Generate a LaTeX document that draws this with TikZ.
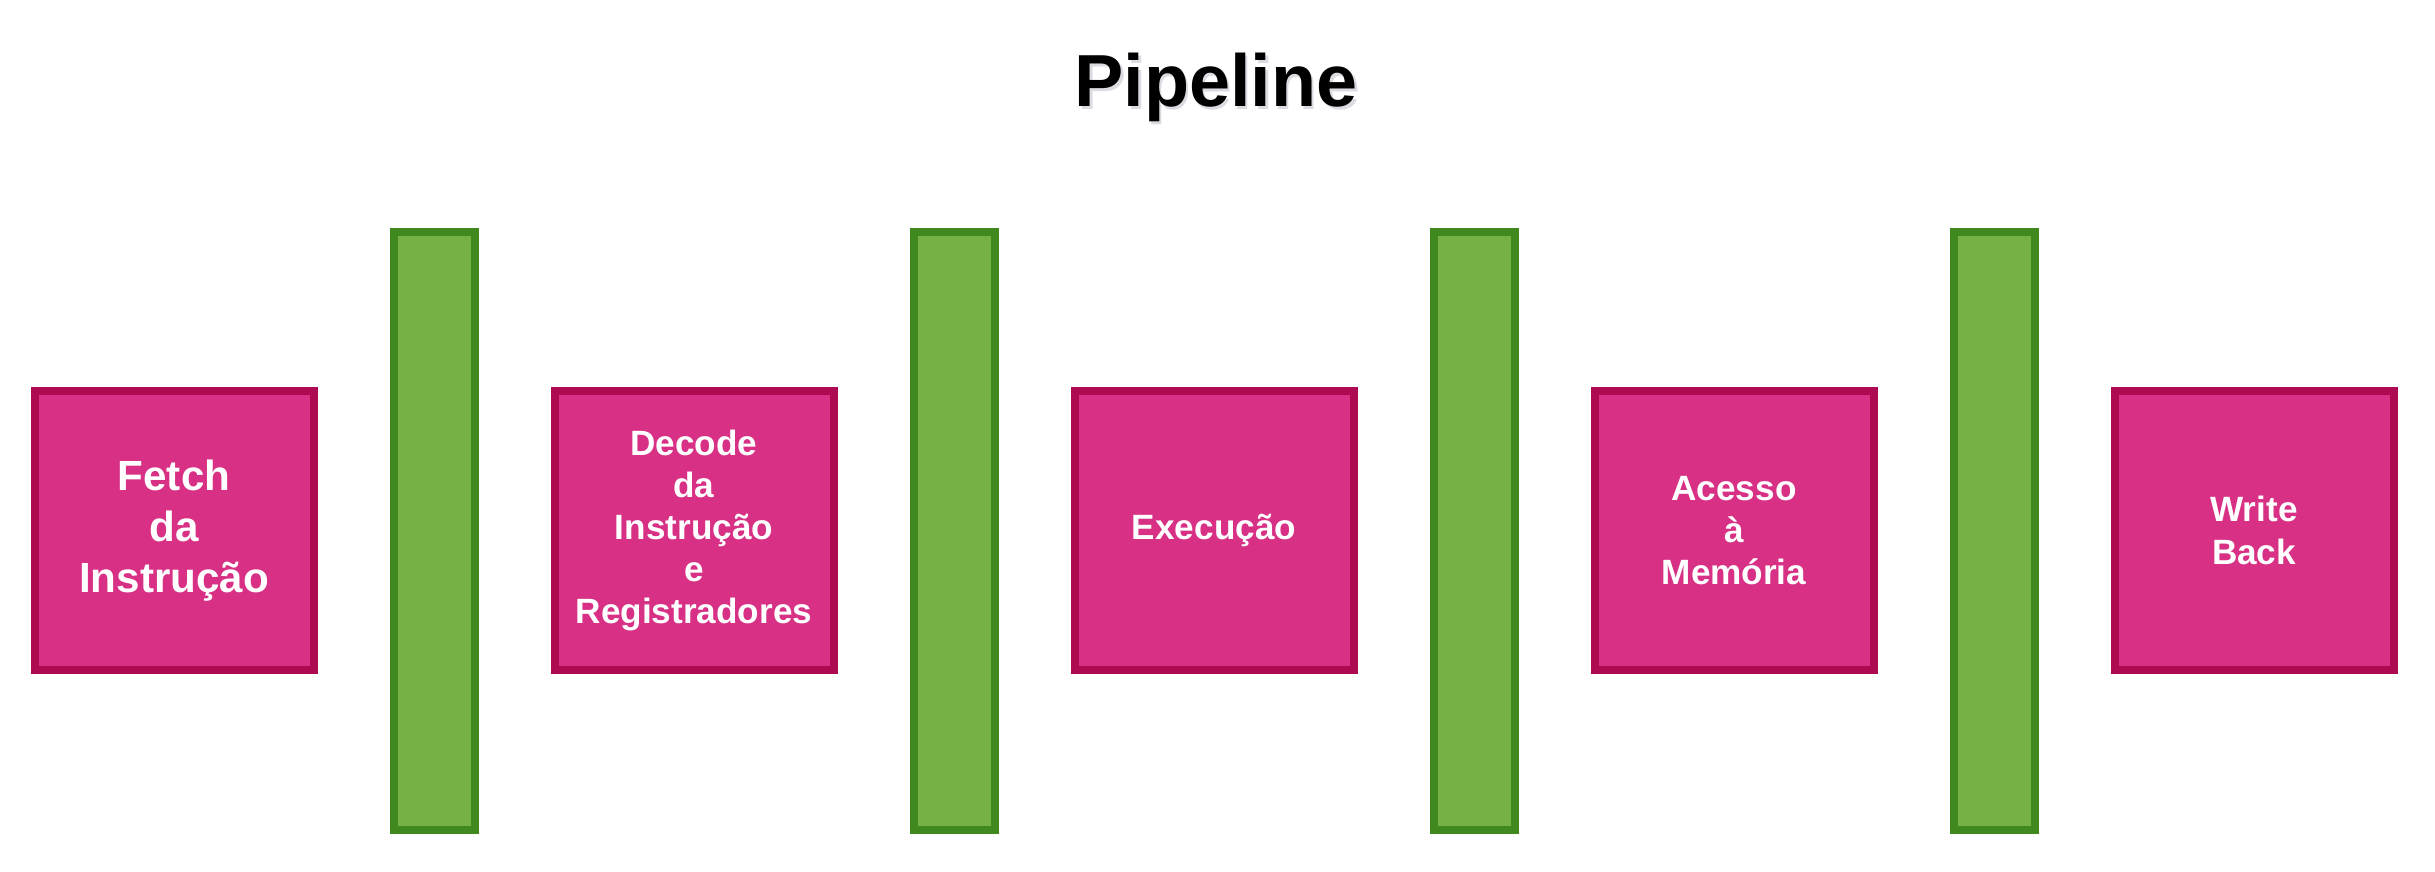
\documentclass[tikz,border=0pt]{standalone}
\usepackage{fontspec}
\setmainfont{Liberation Sans}
\usepackage{xcolor}
\usepackage{tikz}
\usetikzlibrary{shadows}

\definecolor{stagefill}{HTML}{D73085}
\definecolor{stageline}{HTML}{AE0A52}
\definecolor{latchfill}{HTML}{76B145}
\definecolor{latchline}{HTML}{40891E}

\begin{document}
\begin{tikzpicture}[
  stagebox/.style={draw=stageline, fill=stagefill, line width=0.08cm,
    minimum width=2.79cm, minimum height=2.79cm, inner sep=0pt,
    align=center, text=white,
    font=\bfseries\fontsize{10pt}{12pt}\selectfont,
    drop shadow={shadow xshift=0.03cm, shadow yshift=-0.03cm, opacity=0.25}},
  latchbar/.style={draw=latchline, fill=latchfill, line width=0.08cm,
    minimum width=0.81cm, minimum height=5.98cm, inner sep=0pt,
    drop shadow={shadow xshift=0.03cm, shadow yshift=-0.03cm, opacity=0.25}}]
  \useasboundingbox (0,0) rectangle (24.35,8.71);
  % title
  \node[anchor=base, text=blue!20!black!40, opacity=0.35,
    font=\bfseries\fontsize{21pt}{25pt}\selectfont] (Tsh) at (12.185,7.615) {Pipeline};
  \node[anchor=base, font=\bfseries\fontsize{21pt}{25pt}\selectfont] (T) at (12.16,7.64) {Pipeline};
  % stages
  \node[stagebox, font=\bfseries\fontsize{12pt}{14.4pt}\selectfont] (S0) at (1.74,3.405) {Fetch\\da\\Instrução};
  \node[stagebox] (S1) at (6.94,3.405) {Decode\\da\\Instrução\\e\\Registradores};
  \node[stagebox] (S2) at (12.14,3.405) {Execução};
  \node[stagebox] (S3) at (17.34,3.405) {Acesso\\à\\Memória};
  \node[stagebox] (S4) at (22.54,3.405) {Write\\Back};
  % pipeline registers
  \node[latchbar] (R1) at (4.34,3.40) {};
  \node[latchbar] (R2) at (9.54,3.40) {};
  \node[latchbar] (R3) at (14.74,3.40) {};
  \node[latchbar] (R4) at (19.94,3.40) {};
\end{tikzpicture}
\end{document}
